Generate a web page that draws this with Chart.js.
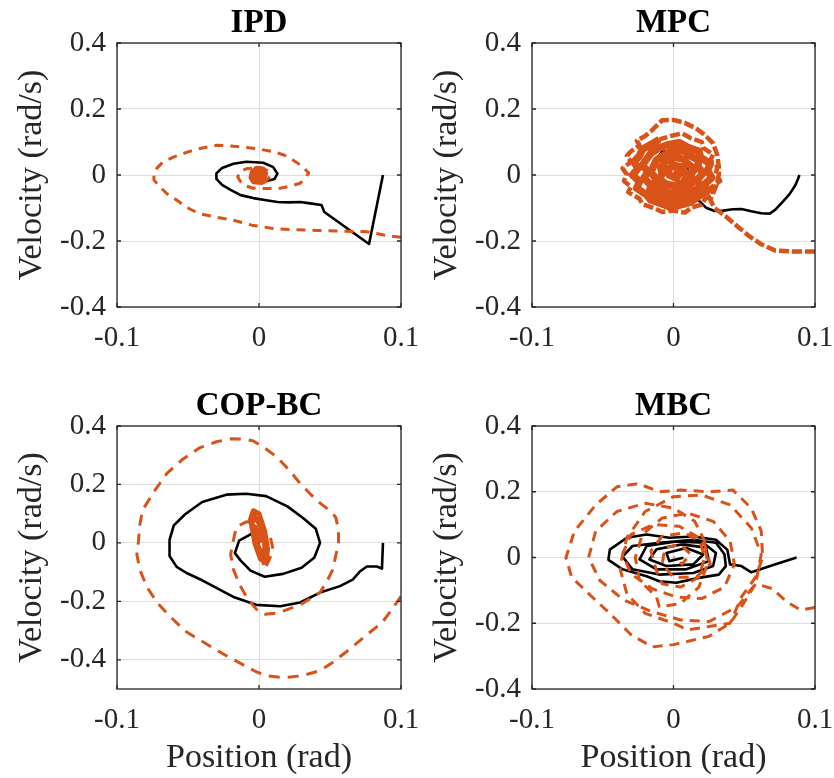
<!DOCTYPE html>
<html>
<head>
<meta charset="utf-8">
<script src="https://cdn.jsdelivr.net/npm/chart.js@4.4.1/dist/chart.umd.min.js"></script>
<style>
  html, body { margin: 0; padding: 0; background: #fff; overflow: hidden; }
  #wrap { position: relative; width: 834px; height: 778px; }
  canvas { position: absolute; }
</style>
</head>
<body>
<div id="wrap">
  <canvas id="ipd" width="420" height="370" style="left:0;top:0"></canvas>
  <canvas id="mpc" width="419" height="370" style="left:415px;top:0"></canvas>
  <canvas id="copbc" width="420" height="408" style="left:0;top:370px"></canvas>
  <canvas id="mbc" width="419" height="408" style="left:415px;top:370px"></canvas>
</div>
<script>
// tick values
const posTicks = [-0.1, 0, 0.1];
const velTicks = [-0.4, -0.2, 0, 0.2, 0.4];

// trajectories, [position, velocity]
const ipdBlack = [[0.0873,0.000],[0.0775,-0.209],[0.046,-0.112],[0.044,-0.091],[0.036,-0.086],[0.029,-0.082],[0.021,-0.083],[0.013,-0.082],[0.004,-0.076],[-0.004,-0.070],[-0.013,-0.061],[-0.020,-0.045],[-0.026,-0.030],[-0.030,-0.012],[-0.030,0.005],[-0.026,0.021],[-0.018,0.034],[-0.009,0.040],[0.003,0.037],[0.010,0.024],[0.013,0.004],[0.011,-0.012],[0.004,-0.020],[-0.003,-0.015],[-0.004,-0.004],[0.000,0.006],[0.003,0.000],[0.000,-0.004]];
const ipdOrange = [[0.100,-0.189],[0.088,-0.182],[0.076,-0.172],[0.058,-0.170],[0.041,-0.168],[0.025,-0.166],[0.010,-0.162],[-0.005,-0.152],[-0.018,-0.137],[-0.030,-0.128],[-0.042,-0.117],[-0.051,-0.098],[-0.058,-0.076],[-0.065,-0.056],[-0.070,-0.035],[-0.074,-0.015],[-0.074,0.000],[-0.072,0.020],[-0.068,0.038],[-0.060,0.055],[-0.050,0.070],[-0.040,0.082],[-0.030,0.090],[-0.020,0.088],[-0.013,0.085],[-0.002,0.080],[0.010,0.071],[0.018,0.060],[0.024,0.045],[0.030,0.028],[0.035,0.006],[0.032,-0.012],[0.029,-0.025],[0.022,-0.034],[0.015,-0.040],[0.005,-0.041],[-0.004,-0.040],[-0.010,-0.032],[-0.013,-0.020],[-0.015,-0.005],[-0.013,0.012],[-0.008,0.020],[0.000,0.022],[0.006,0.014],[0.008,0.000],
  [0.006,-0.015],[0.002,-0.024],[-0.004,-0.022],[-0.006,-0.008],[-0.005,0.010],[-0.002,0.022],[0.003,0.020],[0.005,0.006],[0.004,-0.012],[0.000,-0.018],[-0.004,-0.010],[-0.004,0.006],[-0.001,0.014],[0.003,0.008],[0.002,-0.006],[-0.001,-0.010],[-0.002,0.000],[0.000,0.008],[0.001,0.002],[0.000,-0.004],[-0.001,0.002]];

const mpcBlack = [[0.089,0.000],[0.088,-0.012],[0.086,-0.032],[0.082,-0.058],[0.077,-0.082],[0.072,-0.105],[0.068,-0.117],[0.062,-0.116],[0.055,-0.110],[0.048,-0.103],[0.042,-0.104],[0.035,-0.108],[0.029,-0.109],[0.023,-0.099],[0.019,-0.082],[0.014,-0.066],[0.007,-0.052],[-0.004,-0.048],[-0.012,-0.030],[-0.016,0.000],[-0.014,0.040],[-0.008,0.070],[0.000,0.075],[0.006,0.050],[0.010,0.020],[0.008,-0.020],[0.000,-0.040],[-0.008,-0.020],[-0.010,0.020],[-0.004,0.045],[0.004,0.030],[0.004,0.000],[0.000,-0.010]];
const mpcOrange = [[0.100,-0.232],[0.086,-0.232],[0.072,-0.229],[0.062,-0.210],[0.054,-0.187],[0.045,-0.155],[0.037,-0.126],[0.029,-0.100],[0.026,-0.075],[0.030,-0.035],[0.032,0.000],[0.032,0.025],[0.031,0.060],[0.028,0.096],[0.022,0.122],[0.016,0.141],[0.008,0.158],[0.000,0.167],[-0.008,0.166],
  [-0.016,0.132],[-0.020,0.118],[-0.026,0.104],[-0.024,0.090],[-0.030,0.072],[-0.033,0.058],[-0.030,0.040],[-0.036,0.020],[-0.033,0.002],[-0.035,-0.018],[-0.030,-0.036],[-0.032,-0.052],[-0.024,-0.072],[-0.022,-0.088],[-0.014,-0.100],[-0.008,-0.112],[0.000,-0.108],[0.008,-0.114],[0.013,-0.098],[0.020,-0.090],[0.022,-0.074],[0.028,-0.058],[0.027,-0.036],[0.033,-0.018],[0.030,0.004],[0.031,0.026],[0.026,0.044],[0.028,0.062],[0.021,0.082],[0.020,0.100],[0.012,0.112],[0.006,0.126],[-0.002,0.118],
  [-0.010,0.108],[-0.016,0.092],[-0.022,0.078],[-0.024,0.058],[-0.028,0.040],[-0.025,0.020],[-0.029,0.000],[-0.024,-0.020],[-0.026,-0.040],[-0.019,-0.060],[-0.016,-0.076],[-0.008,-0.088],[-0.002,-0.098],[0.006,-0.090],[0.012,-0.082],[0.018,-0.064],[0.024,-0.048],[0.022,-0.028],[0.027,-0.008],[0.024,0.014],[0.026,0.034],[0.019,0.054],[0.018,0.072],[0.010,0.084],[0.004,0.098],[-0.004,0.092],
  [-0.010,0.082],[-0.016,0.066],[-0.019,0.048],[-0.022,0.030],[-0.018,0.010],[-0.021,-0.010],[-0.016,-0.030],[-0.017,-0.050],[-0.010,-0.064],[-0.004,-0.078],[0.004,-0.070],[0.010,-0.066],[0.014,-0.050],[0.019,-0.034],[0.017,-0.014],[0.021,0.006],[0.017,0.026],[0.018,0.044],[0.012,0.058],[0.008,0.072],[0.000,0.076],
  [-0.006,0.062],[-0.012,0.046],[-0.014,0.028],[-0.016,0.008],[-0.012,-0.012],[-0.014,-0.030],[-0.008,-0.046],[-0.002,-0.056],[0.006,-0.050],[0.010,-0.036],[0.014,-0.020],[0.012,0.000],[0.015,0.018],[0.010,0.034],[0.007,0.048],[0.000,0.054],
  [-0.006,0.040],[-0.009,0.022],[-0.008,0.004],[-0.010,-0.014],[-0.005,-0.028],[0.002,-0.034],[0.007,-0.022],[0.009,-0.006],[0.008,0.010],[0.006,0.024],[0.000,0.030],[-0.004,0.016],[-0.003,0.000],[0.002,-0.010],[0.004,0.004],[0.000,0.008]];

const copBlack = [[0.0873,0.000],[0.0866,-0.088],[0.083,-0.081],[0.076,-0.081],[0.071,-0.098],[0.066,-0.126],[0.057,-0.148],[0.043,-0.170],[0.029,-0.204],[0.015,-0.217],[-0.002,-0.212],[-0.018,-0.185],[-0.030,-0.154],[-0.040,-0.128],[-0.051,-0.103],[-0.058,-0.082],[-0.063,-0.045],[-0.063,0.010],[-0.060,0.060],[-0.052,0.098],[-0.040,0.140],[-0.023,0.165],[-0.009,0.168],[0.005,0.160],[0.020,0.125],[0.031,0.085],[0.040,0.048],[0.043,0.000],[0.039,-0.050],[0.030,-0.085],[0.017,-0.106],[0.004,-0.116],[-0.006,-0.095],[-0.013,-0.060],[-0.017,-0.035],[-0.014,0.008],[-0.005,0.032],[0.004,0.020],[0.006,-0.012],[0.002,-0.040],[-0.002,-0.020],[0.000,0.000]];
const copOrange = [[0.100,-0.183],[0.094,-0.225],[0.087,-0.271],[0.075,-0.318],[0.064,-0.363],[0.053,-0.405],[0.043,-0.437],[0.030,-0.455],[0.017,-0.461],[0.006,-0.455],[-0.002,-0.441],[-0.012,-0.415],[-0.023,-0.386],[-0.037,-0.346],[-0.051,-0.305],[-0.062,-0.255],[-0.072,-0.203],[-0.079,-0.150],[-0.084,-0.091],[-0.086,-0.040],[-0.085,0.000],[-0.084,0.060],[-0.082,0.112],[-0.074,0.175],[-0.065,0.237],[-0.054,0.285],[-0.042,0.325],[-0.030,0.346],[-0.020,0.356],[-0.010,0.355],[-0.004,0.349],[0.004,0.325],[0.013,0.292],[0.022,0.245],[0.029,0.203],[0.036,0.168],[0.043,0.136],[0.050,0.110],[0.054,0.088],[0.056,0.045],[0.056,0.000],[0.054,-0.045],[0.052,-0.091],[0.048,-0.130],[0.043,-0.170],[0.029,-0.212],[0.013,-0.240],[0.004,-0.244],[0.000,-0.237],[-0.004,-0.215],[-0.009,-0.183],[-0.014,-0.140],[-0.018,-0.091],[-0.020,-0.040],[-0.018,0.010],[-0.016,0.054],[-0.009,0.072],[-0.003,0.068],[0.003,0.050],[0.008,0.020],[0.010,-0.024],[0.007,-0.060],[0.005,-0.081],
  [0.004,-0.075],[0.001,-0.030],[-0.004,0.030],[-0.006,0.080],[-0.004,0.110],[0.000,0.100],[0.004,0.040],[0.006,-0.020],[0.005,-0.068],[0.001,-0.055],[-0.003,0.000],[-0.005,0.060],[-0.004,0.095],[0.001,0.060],[0.004,0.000],[0.004,-0.045],[0.000,-0.035],[-0.003,0.020],[-0.003,0.055],[0.000,0.030],[0.001,0.000]];

const mbcBlack = [[0.087,0.000],[0.071,-0.022],[0.055,-0.045],[0.048,-0.026],[0.040,-0.021],[0.038,0.024],[0.030,0.054],[0.014,0.064],[-0.003,0.060],[-0.019,0.070],[-0.033,0.060],[-0.045,0.024],[-0.046,-0.007],[-0.036,-0.036],[-0.019,-0.057],[-0.010,-0.072],[0.002,-0.077],[0.018,-0.062],[0.032,-0.052],[0.037,-0.026],[0.036,0.010],[0.030,0.045],[0.014,0.054],[-0.010,0.045],[-0.029,0.035],[-0.036,0.003],[-0.029,-0.036],[-0.010,-0.052],[0.014,-0.047],[0.028,-0.026],[0.030,0.014],[0.021,0.045],[0.002,0.049],[-0.019,0.035],[-0.024,-0.006],[-0.012,-0.036],[0.009,-0.036],[0.025,-0.011],[0.023,0.030],[0.006,0.040],[-0.012,0.025],[-0.017,-0.006],[-0.005,-0.026],[0.014,-0.021],[0.021,0.009],[0.009,0.029],[-0.005,0.014],[-0.003,-0.011],[0.007,-0.001]];
const mbcOrange = [[0.100,-0.152],[0.090,-0.160],[0.080,-0.135],[0.070,-0.095],[0.058,-0.080],[0.048,-0.150],[0.040,-0.200],[0.025,-0.240],[0.000,-0.265],[-0.015,-0.272],[-0.030,-0.235],[-0.045,-0.170],[-0.060,-0.110],[-0.072,-0.060],[-0.076,0.000],[-0.070,0.080],[-0.055,0.160],[-0.040,0.215],[-0.025,0.225],[-0.010,0.200],[0.005,0.205],[0.025,0.200],[0.042,0.205],[0.055,0.150],[0.062,0.080],[0.063,0.000],[0.058,-0.060],[0.048,-0.120],[0.040,-0.200],[0.025,-0.210],[0.010,-0.220],
  [0.000,-0.200],[-0.020,-0.170],[-0.033,-0.110],[-0.038,-0.030],[-0.033,0.060],[-0.020,0.140],[0.000,0.185],[0.020,0.190],[0.040,0.160],[0.055,0.090],[0.062,0.010],[0.058,-0.080],[0.045,-0.150],[0.025,-0.195],[0.005,-0.190],
  [-0.015,-0.165],[-0.035,-0.130],[-0.052,-0.070],[-0.060,0.000],[-0.055,0.080],[-0.040,0.140],[-0.020,0.165],[0.000,0.150],[0.015,0.110],[0.022,0.050],[0.024,-0.020],[0.018,-0.090],[0.005,-0.140],[-0.010,-0.150],
  [-0.012,-0.120],[-0.024,-0.070],[-0.027,0.000],[-0.022,0.070],[-0.008,0.120],[0.010,0.135],[0.028,0.110],[0.040,0.050],[0.043,-0.020],[0.036,-0.090],[0.020,-0.125],[0.002,-0.120],
  [-0.015,-0.095],[-0.030,-0.050],[-0.036,0.010],[-0.030,0.070],[-0.014,0.100],[0.004,0.095],[0.018,0.060],[0.022,0.000],[0.018,-0.060],[0.005,-0.090],[-0.008,-0.080],
  [-0.012,-0.040],[-0.016,0.020],[-0.008,0.065],[0.008,0.075],[0.022,0.040],[0.026,-0.020],[0.016,-0.060],[0.000,-0.060],[-0.008,-0.020],[-0.006,0.030],[0.005,0.040],[0.012,0.010],[0.006,-0.020],[0.000,0.000]];

const SERIF = "'Liberation Serif', 'Times New Roman', serif";
const ORANGE = '#D95319';
const AXIS = '#262626';

function toPoints(arr) {
  return arr.map(p => ({ x: p[0], y: p[1] }));
}

// box around plot area with inward ticks, like MATLAB
const boxPlugin = {
  id: 'box',
  afterDatasetsDraw(chart) {
    const a = chart.chartArea;
    const ctx = chart.ctx;
    const xs = chart.scales.x, ys = chart.scales.y;
    ctx.save();
    ctx.strokeStyle = AXIS;
    ctx.lineWidth = 1.3;
    ctx.beginPath();
    posTicks.forEach(v => {
      const p = xs.getPixelForValue(v);
      ctx.moveTo(p, a.bottom); ctx.lineTo(p, a.bottom - 4);
      ctx.moveTo(p, a.top); ctx.lineTo(p, a.top + 4);
    });
    velTicks.forEach(v => {
      const p = ys.getPixelForValue(v);
      ctx.moveTo(a.left, p); ctx.lineTo(a.left + 4, p);
      ctx.moveTo(a.right, p); ctx.lineTo(a.right - 4, p);
    });
    ctx.stroke();
    ctx.strokeRect(a.left, a.top, a.right - a.left, a.bottom - a.top);
    ctx.restore();
  }
};

function makePanel(id, o) {
  new Chart(document.getElementById(id), {
    type: 'scatter',
    data: {
      datasets: [
        {
          data: toPoints(o.orange),
          showLine: true,
          borderColor: ORANGE,
          borderWidth: o.ow,
          borderDash: o.dash,
          borderJoinStyle: 'round',
          pointRadius: 0,
          order: 0,
          segment: {
            borderDash: ctx => ctx.p0DataIndex >= o.solidFrom ? [] : undefined,
            borderWidth: ctx => ctx.p0DataIndex >= o.solidFrom ? o.sw : undefined
          }
        },
        {
          data: toPoints(o.black),
          showLine: true,
          borderColor: '#000',
          borderWidth: 2.6,
          borderJoinStyle: 'round',
          pointRadius: 0,
          order: 1
        }
      ]
    },
    options: {
      responsive: false,
      animation: false,
      events: [],
      layout: { padding: { left: 0, right: 19, top: 0, bottom: 0 } },
      plugins: {
        legend: { display: false },
        tooltip: { enabled: false },
        title: {
          display: true,
          fullSize: false,
          text: o.title,
          color: '#000',
          font: { family: SERIF, size: 33, weight: 'bold', lineHeight: 1 },
          padding: { top: o.titleTop, bottom: o.titleBottom }
        }
      },
      scales: {
        x: {
          type: 'linear',
          min: -0.1, max: 0.1,
          afterBuildTicks: s => { s.ticks = posTicks.map(v => ({ value: v })); },
          afterFit: s => { s.height = o.xh; },
          grid: { color: '#dedede', lineWidth: 1, drawTicks: true, tickLength: 14, tickColor: 'rgba(0,0,0,0)' },
          border: { display: false },
          ticks: { padding: 0, color: AXIS, font: { family: SERIF, size: 29 }, maxRotation: 0, callback: v => String(v) },
          title: { display: o.xTitle, text: 'Position (rad)', color: AXIS, font: { family: SERIF, size: 34 }, padding: { top: 0, bottom: 0 } }
        },
        y: {
          type: 'linear',
          min: o.yMin, max: 0.4,
          afterBuildTicks: s => { s.ticks = velTicks.map(v => ({ value: v })); },
          afterFit: s => { s.width = 117; },
          grid: { color: '#dedede', lineWidth: 1, drawTicks: true, tickLength: 11, tickColor: 'rgba(0,0,0,0)' },
          border: { display: false },
          ticks: { padding: 0, color: AXIS, font: { family: SERIF, size: 29 }, callback: v => String(v) },
          title: { display: true, text: 'Velocity (rad/s)', color: AXIS, font: { family: SERIF, size: 34 }, padding: { top: 12, bottom: 0 } }
        }
      }
    },
    plugins: [boxPlugin]
  });
}

makePanel('ipd', { title: 'IPD', black: ipdBlack, orange: ipdOrange, ow: 3, sw: 4, dash: [9, 7], solidFrom: 45,
  yMin: -0.4, xh: 63, titleTop: 7, titleBottom: 3, xTitle: false });
makePanel('mpc', { title: 'MPC', black: mpcBlack, orange: mpcOrange, ow: 4.5, sw: 7.5, dash: [10, 3], solidFrom: 52,
  yMin: -0.4, xh: 63, titleTop: 7, titleBottom: 3, xTitle: false });
makePanel('copbc', { title: 'COP-BC', black: copBlack, orange: copOrange, ow: 3, sw: 5, dash: [11, 8], solidFrom: 63,
  yMin: -0.5, xh: 89, titleTop: 20, titleBottom: 3, xTitle: true });
makePanel('mbc', { title: 'MBC', black: mbcBlack, orange: mbcOrange, ow: 3, sw: 3, dash: [10, 7], solidFrom: 9999,
  yMin: -0.4, xh: 89, titleTop: 20, titleBottom: 3, xTitle: true });
</script>
</body>
</html>
